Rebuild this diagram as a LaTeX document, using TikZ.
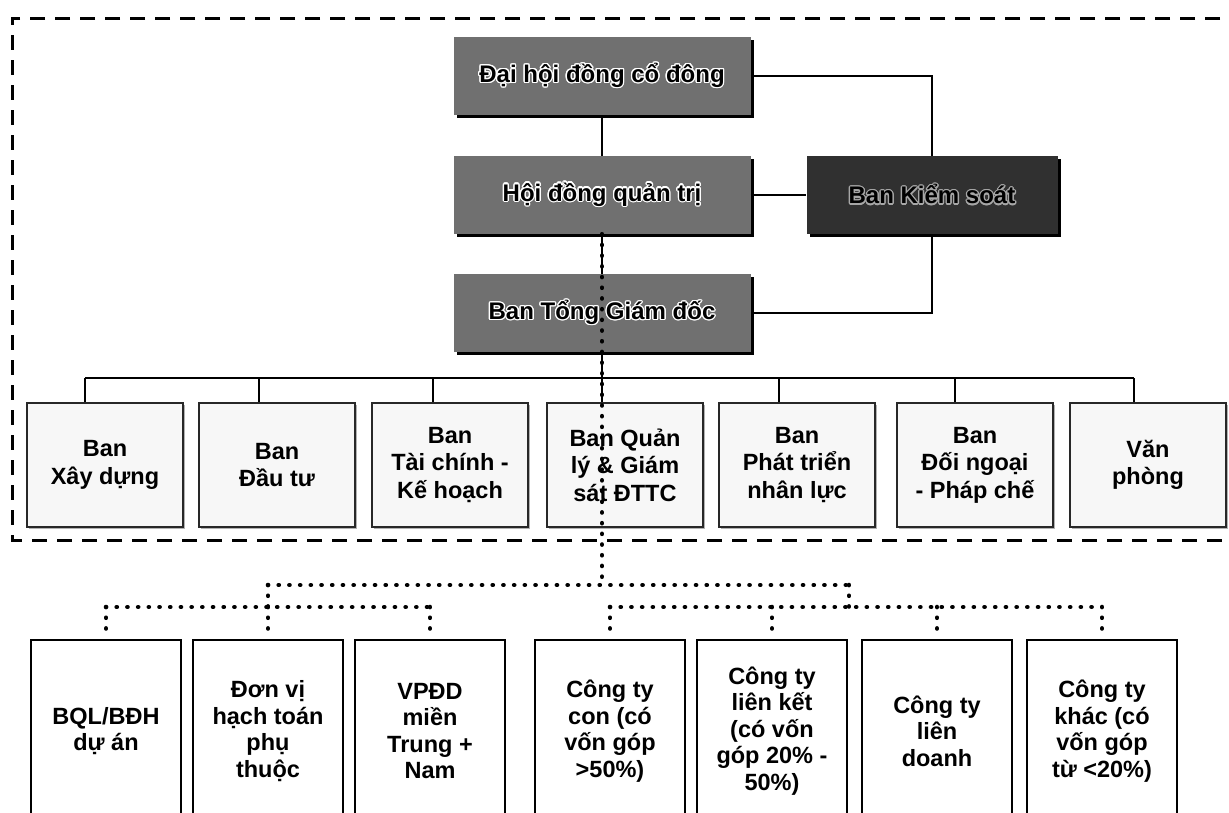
\documentclass[tikz,border=0pt]{standalone}
\usepackage{fontspec}
\setmainfont{Liberation Sans}
\usepackage{contour}
\contourlength{1.3pt}
\usetikzlibrary{calc,shadows}
\definecolor{midgray}{RGB}{112,112,112}
\definecolor{deepgray}{RGB}{48,48,48}
\definecolor{boxline}{RGB}{40,40,40}
\begin{document}
\begin{tikzpicture}[x=1pt,y=-1pt,
  topbox/.style={fill=midgray, draw=none, minimum width=297pt, minimum height=78pt,
    drop shadow={shadow xshift=3pt, shadow yshift=-3pt, opacity=1, fill=black},
    font=\bfseries\fontsize{24}{28}\selectfont, inner sep=0pt},
  ctrlbox/.style={topbox, fill=deepgray, minimum width=251pt},
  deptbox/.style={fill=gray!6, draw=boxline, line width=2pt, minimum width=156pt, minimum height=124pt,
    drop shadow={shadow xshift=2pt, shadow yshift=-2pt, opacity=0.6, fill=gray},
    align=center, font=\bfseries\fontsize{23.5}{27.5}\selectfont, inner sep=2pt},
  unitbox/.style={fill=white, draw=black, line width=2pt, minimum width=150pt, minimum height=182pt,
    align=center, font=\bfseries\fontsize{23.5}{26.5}\selectfont, inner sep=2pt},
  conn/.style={line width=2.6pt, black},
  dotline/.style={line width=4.6pt, black, line cap=round, dash pattern=on 0.1pt off 10.6pt},
  boundary/.style={line width=3pt, black, dash pattern=on 15pt off 10pt}
]
\useasboundingbox (0,0) rectangle (1229,812);
\clip (0,0) rectangle (1229,812);
\fill[white] (0,0) rectangle (1229,812);

% dashed boundary
\draw[boundary] (1245,18) -- (12,18) -- (12,540) -- (1245,540);

% top management
\node[topbox] (dhdcd) at (602,76) {\contour{white}{Đại hội đồng cổ đông}};
\node[topbox] (hdqt) at (602,195) {\contour{white}{Hội đồng quản trị}};
\node[ctrlbox] (bks) at (932,195) {\contour{gray!70}{Ban Kiểm soát}};
\node[topbox] (btgd) at (602,313) {\contour{white}{Ban Tổng Giám đốc}};

\draw[conn] (dhdcd.south) -- (hdqt.north);
\draw[conn] (dhdcd.east) -| (bks.north);
\draw[conn] (hdqt.east) -- (bks.west);
\draw[conn] (bks.south) |- (btgd.east);
\draw[conn] (hdqt.south) -- (btgd.north);

% departments
\node[deptbox] (b1) at (105,465) {Ban\\Xây dựng};
\node[deptbox] (b2) at (277,465) {Ban\\Đầu tư};
\node[deptbox] (b3) at (450,465) {Ban\\Tài chính -\\Kế hoạch};
\node[deptbox] (b4) at (625,465) {Ban Quản\\lý \& Giám\\sát ĐTTC};
\node[deptbox] (b5) at (797,465) {Ban\\Phát triển\\nhân lực};
\node[deptbox] (b6) at (975,465) {Ban\\Đối ngoại\\- Pháp chế};
\node[deptbox] (b7) at (1148,465) {Văn\\phòng};

\coordinate (d1) at (85,378);
\coordinate (d2) at (259,378);
\coordinate (d3) at (433,378);
\coordinate (d4) at (602,378);
\coordinate (d5) at (779,378);
\coordinate (d6) at (955,378);
\coordinate (d7) at (1134,378);
\draw[conn] (btgd.south) -- (d4);
\draw[conn] (d1) -- (d7);
\foreach \i in {1,...,7}{\draw[conn] (d\i) -- (d\i |- b\i.north);}

% units and companies
\node[unitbox] (c1) at (106,731) {BQL/BĐH\\dự án};
\node[unitbox] (c2) at (268,731) {Đơn vị\\hạch toán\\phụ\\thuộc};
\node[unitbox] (c3) at (430,731) {VPĐD\\miền\\Trung +\\Nam};
\node[unitbox] (c4) at (610,731) {Công ty\\con (có\\vốn góp\\>50\%)};
\node[unitbox] (c5) at (772,731) {Công ty\\liên kết\\(có vốn\\góp 20\% -\\50\%)};
\node[unitbox] (c6) at (937,731) {Công ty\\liên\\doanh};
\node[unitbox] (c7) at (1102,731) {Công ty\\khác (có\\vốn góp\\từ <20\%)};

\coordinate (top) at (602,585);
\coordinate (ul) at (268,585);
\coordinate (ur) at (849,585);
\coordinate (ll) at (268,607);
\coordinate (lr) at (849,607);
\draw[dotline] (hdqt.south) -- (top);
\draw[dotline] (ul) -- (ur);
\draw[dotline] (ul) -- (ll);
\draw[dotline] (ur) -- (lr);
\draw[dotline] (c1.north |- ll) -- (c3.north |- ll);
\draw[dotline] (c4.north |- lr) -- (c7.north |- lr);
\foreach \i in {1,...,7}{\draw[dotline] (c\i.north |- ll) -- (c\i.north);}
\end{tikzpicture}
\end{document}
